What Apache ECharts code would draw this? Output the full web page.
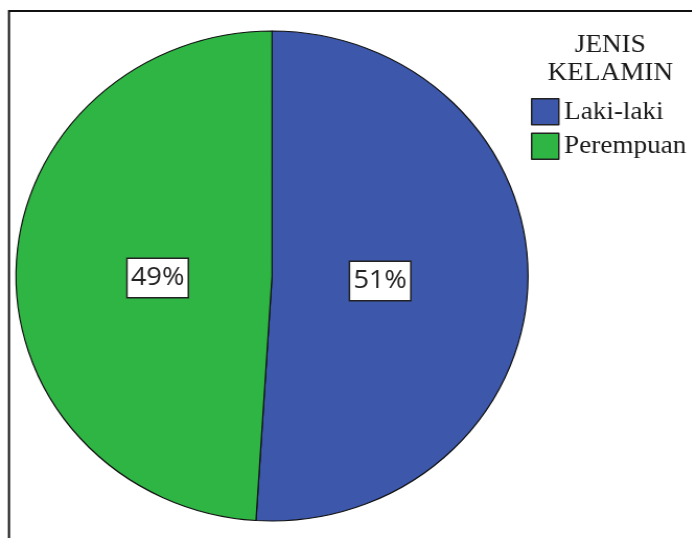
<!DOCTYPE html>
<html>
<head>
<meta charset="utf-8">
<script src="https://cdn.jsdelivr.net/npm/echarts@6/dist/echarts.min.js"></script>
<style>
  html, body { margin: 0; padding: 0; background: #fff; overflow: hidden; }
  #wrap { width: 692px; height: 538px; overflow: hidden; position: relative; }
  #chart { width: 662px; height: 538px; transform: scaleX(1.045); transform-origin: 0 0; }
</style>
</head>
<body>
<div id="wrap"><div id="chart"></div></div>
<script>
// Data
const legendTitle = 'JENIS\nKELAMIN';
const categories = ['Laki-laki', 'Perempuan'];
const percents = [51, 49];
const colors = ['#3d57aa', '#2fb544'];

const data = categories.map((name, i) => ({ name: name, value: percents[i] }));

const chart = echarts.init(document.getElementById('chart'), null, { renderer: 'canvas' });
chart.setOption({
  animation: false,
  backgroundColor: '#fff',
  color: colors,
  graphic: [{
    type: 'rect',
    shape: { x: 8.6, y: 11, width: 800, height: 700 },
    style: { fill: 'none', stroke: '#111', lineWidth: 2 },
    silent: true
  }],
  title: {
    text: legendTitle,
    left: 584,
    top: 31,
    padding: 0,
    textAlign: 'center',
    textStyle: {
      fontFamily: 'Liberation Serif',
      fontSize: 26,
      fontWeight: 'normal',
      color: '#1a1a1a',
      lineHeight: 28
    }
  },
  legend: {
    orient: 'vertical',
    left: 508,
    top: 98,
    padding: 0,
    itemWidth: 26,
    itemHeight: 26,
    itemGap: 7,
    icon: 'rect',
    selectedMode: false,
    itemStyle: { borderColor: '#222', borderWidth: 1.5 },
    textStyle: {
      fontFamily: 'Liberation Serif',
      fontSize: 26,
      color: '#1a1a1a'
    },
    data: categories
  },
  series: [{
    type: 'pie',
    center: [260.3, 276],
    radius: [0, 245],
    startAngle: 90,
    clockwise: true,
    avoidLabelOverlap: false,
    silent: true,
    itemStyle: { borderColor: '#111', borderWidth: 1.2 },
    label: {
      show: true,
      position: 'inside',
      formatter: '{c}%',
      fontFamily: 'Open Sans',
      fontSize: 26,
      color: '#222',
      backgroundColor: '#fff',
      borderColor: '#222',
      borderWidth: 1.5,
      padding: [4, 3, 3, 3],
      lineHeight: 31
    },
    labelLayout: function (params) {
      return params.dataIndex === 0 ? { dx: -22, dy: 1 } : { dx: 16, dy: 6 };
    },
    labelLine: { show: false },
    data: data
  }]
});
</script>
</body>
</html>
